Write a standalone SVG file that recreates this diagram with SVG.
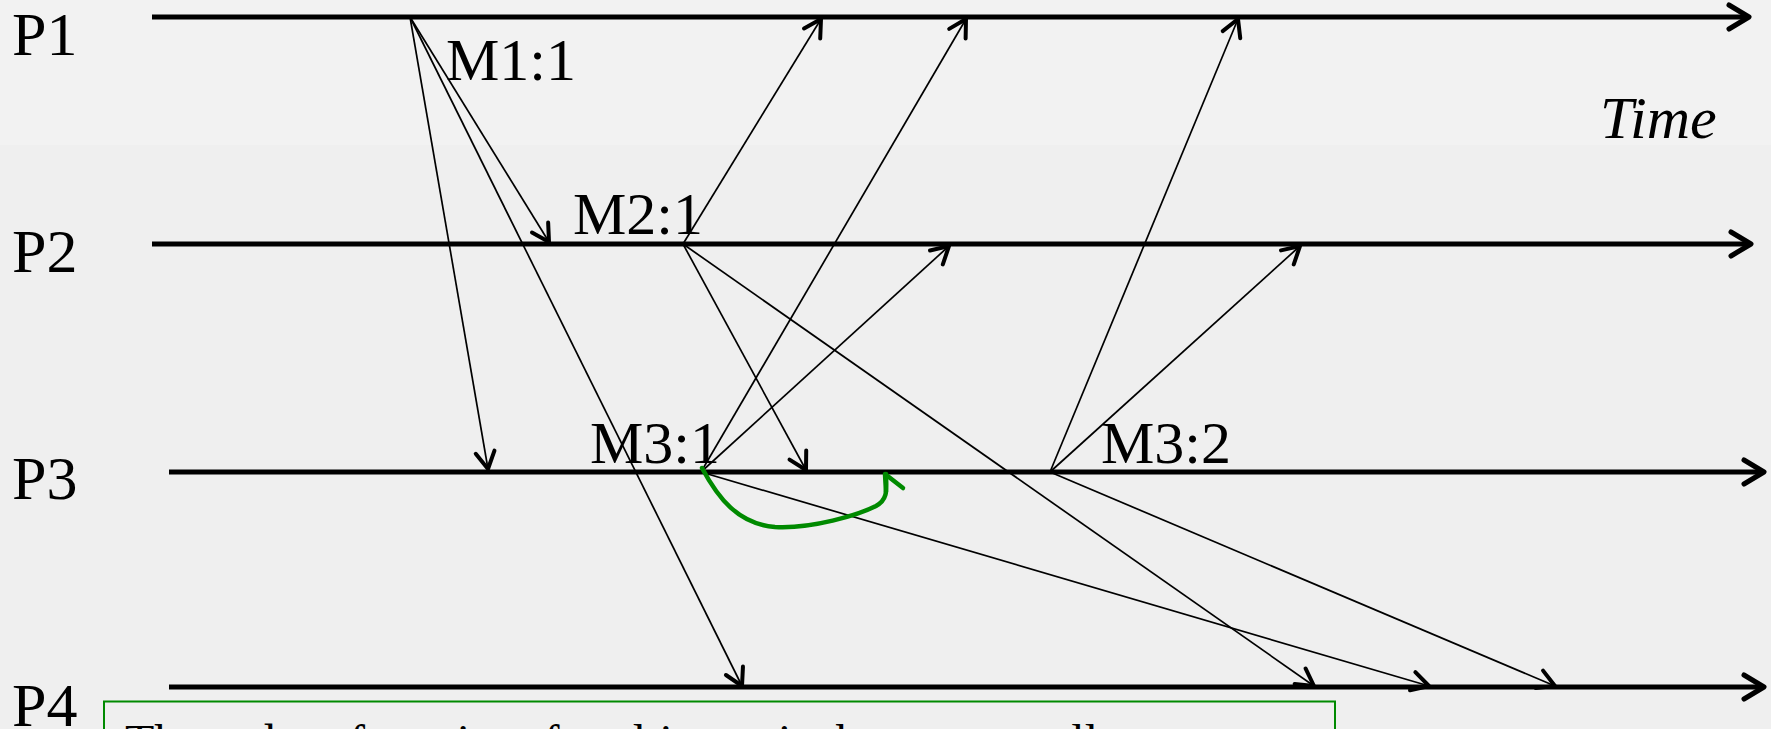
<svg xmlns="http://www.w3.org/2000/svg" width="1771" height="729" viewBox="0 0 1771 729">
<style>
.lbl{font-family:"Liberation Serif","Times New Roman",serif;font-size:62px;fill:#000}
.msg{font-family:"Liberation Serif","Times New Roman",serif;font-size:60px;fill:#000}
.tl{stroke:#000;stroke-width:4.8;fill:none;marker-end:url(#big)}
.cn{stroke:#000;stroke-width:1.7;fill:none;marker-end:url(#small)}
</style>
<defs>
<marker id="small" markerUnits="userSpaceOnUse" viewBox="-30 -20 40 40" markerWidth="40" markerHeight="40" refX="0" refY="0" orient="auto" overflow="visible">
<path d="M-17,-9.5 L0,0 L-17,9.5" fill="none" stroke="#000" stroke-width="4" stroke-linecap="round" stroke-linejoin="round"/>
</marker>
<marker id="big" markerUnits="userSpaceOnUse" viewBox="-30 -20 40 40" markerWidth="40" markerHeight="40" refX="0" refY="0" orient="auto" overflow="visible">
<path d="M-20,-12 L0,0 L-20,12" fill="none" stroke="#000" stroke-width="5" stroke-linecap="round" stroke-linejoin="round"/>
</marker>
</defs>
<rect x="0" y="0" width="1771" height="729" fill="#efefef"/>
<rect x="0" y="0" width="1771" height="145" fill="#f2f2f2"/>
<g id="timelines">
<line class="tl" x1="152" y1="17" x2="1749" y2="17"/>
<line class="tl" x1="152" y1="244" x2="1751" y2="244"/>
<line class="tl" x1="169" y1="472" x2="1764" y2="472"/>
<line class="tl" x1="169" y1="687" x2="1764" y2="687"/>
</g>
<g id="P1"><text class="lbl" x="12" y="55">P1</text></g>
<g id="P2"><text class="lbl" x="12" y="272">P2</text></g>
<g id="P3"><text class="lbl" x="12" y="499">P3</text></g>
<g id="P4"><text class="lbl" x="12" y="726">P4</text></g>
<g id="time"><text class="msg" x="1600" y="138" font-style="italic">Time</text></g>
<g id="connectors">
<line class="cn" x1="410" y1="17" x2="549" y2="242"/>
<line class="cn" x1="410" y1="17" x2="488" y2="469"/>
<line class="cn" x1="410" y1="17" x2="742" y2="686"/>
<line class="cn" x1="683" y1="244" x2="821" y2="19"/>
<line class="cn" x1="683" y1="244" x2="806" y2="470"/>
<line class="cn" x1="683" y1="244" x2="1314" y2="686"/>
<line class="cn" x1="701" y1="472" x2="966" y2="19"/>
<line class="cn" x1="701" y1="472" x2="949" y2="246"/>
<line class="cn" x1="701" y1="472" x2="1429" y2="686"/>
<line class="cn" x1="1050" y1="472" x2="1238" y2="19"/>
<line class="cn" x1="1050" y1="472" x2="1300" y2="246"/>
<line class="cn" x1="1050" y1="472" x2="1555" y2="686"/>
</g>
<g id="M1-1"><text class="msg" x="446" y="80">M1:1</text></g>
<g id="M2-1"><text class="msg" x="573" y="234">M2:1</text></g>
<g id="M3-1"><text class="msg" x="590" y="463">M3:1</text></g>
<g id="M3-2"><text class="msg" x="1101" y="463">M3:2</text></g>
<g id="green-arrow" fill="none" stroke="#008a00" stroke-width="4.5" stroke-linecap="round" stroke-linejoin="round">
<path d="M702,468 C718,498 738,524 775,527 C812,529 858,515 876,506 C889,499 886,488 886,474"/>
<path d="M886,492 L885,474 L903,488"/>
</g>
<g id="note">
<rect x="104" y="701.5" width="1231" height="100" fill="none" stroke="#008a00" stroke-width="2"/>
<text x="125" y="758" font-family="Liberation Serif, Times New Roman, serif" font-size="48" fill="#000">The order of receipt of multicasts is the same at all processes.</text>
</g>
</svg>
